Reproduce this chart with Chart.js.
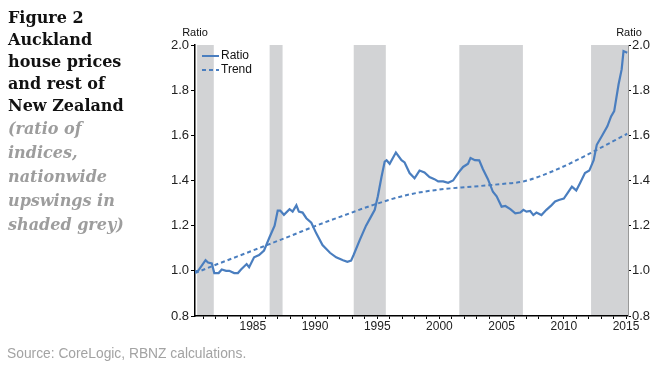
<!DOCTYPE html>
<html>
<head>
<meta charset="utf-8">
<script src="https://cdn.jsdelivr.net/npm/chart.js@4"></script>
<style>
    body { margin: 0; background: #fff; }
    #pagina { position: relative; width: 660px; height: 367px; overflow: hidden; }
    #grafico { position: absolute; left: 0; top: 0; }
    #titulo {
        position: absolute; left: 8px; top: 7px;
        font: bold 16px "DejaVu Serif"; line-height: 22px; color: #111;
    }
    #subtitulo {
        position: absolute; left: 8px; top: 117px;
        font: italic bold 16px "DejaVu Serif"; line-height: 24px; color: #9d9d9d;
    }
    #fonte {
        position: absolute; left: 7px; top: 346px;
        font: 13.8px "Liberation Sans"; color: #a3a3a3;
    }
</style>
</head>
<body>
<div id="pagina">
    <canvas id="grafico" width="660" height="367"></canvas>
    <div id="titulo">Figure 2<br>Auckland<br>house prices<br>and rest of<br>New Zealand</div>
    <div id="subtitulo">(ratio of<br>indices,<br>nationwide<br>upswings in<br>shaded grey)</div>
    <div id="fonte">Source: CoreLogic, RBNZ calculations.</div>
</div>
<script>
// dados (anos decimais)
const anosRazao = [1980.35, 1980.6, 1981.2, 1981.4, 1981.7, 1981.9, 1982.25, 1982.5, 1982.85, 1983.1,
    1983.5, 1983.8, 1984.05, 1984.5, 1984.7, 1985.1, 1985.5, 1985.9, 1986.35, 1986.75,
    1987.0, 1987.2, 1987.5, 1987.95, 1988.2, 1988.5, 1988.7, 1989.0, 1989.3, 1989.7,
    1990.1, 1990.6, 1991.2, 1991.7, 1992.25, 1992.6, 1992.9, 1993.1, 1993.6, 1994.1,
    1994.5, 1994.8, 1995.05, 1995.35, 1995.6, 1995.75, 1996.0, 1996.5, 1996.95, 1997.2,
    1997.6, 1998.0, 1998.4, 1998.8, 1999.2, 1999.6, 1999.9, 2000.3, 2000.7, 2001.1,
    2001.5, 2001.9, 2002.3, 2002.5, 2002.85, 2003.2, 2003.5, 2003.9, 2004.3, 2004.6,
    2005.0, 2005.3, 2005.7, 2006.1, 2006.5, 2006.75, 2007.0, 2007.3, 2007.55, 2007.8,
    2008.2, 2008.6, 2009.0, 2009.3, 2009.6, 2010.0, 2010.3, 2010.65, 2011.0, 2011.3,
    2011.7, 2012.05, 2012.4, 2012.65, 2013.05, 2013.5, 2013.8, 2014.05, 2014.4, 2014.65,
    2014.8, 2015.1];
const valoresRazao = [0.996, 1.0, 1.047, 1.037, 1.033, 0.99, 0.99, 1.006, 1.0, 1.0,
    0.99, 0.99, 1.006, 1.03, 1.016, 1.06, 1.07, 1.09, 1.15, 1.2,
    1.267, 1.267, 1.248, 1.273, 1.262, 1.29, 1.262, 1.258, 1.233, 1.213,
    1.166, 1.114, 1.08, 1.06, 1.047, 1.04, 1.045, 1.07, 1.137, 1.2,
    1.24, 1.27, 1.33, 1.418, 1.484, 1.49, 1.474, 1.524, 1.49, 1.48,
    1.433, 1.41, 1.444, 1.436, 1.415, 1.406, 1.396, 1.396, 1.39, 1.4,
    1.433, 1.46, 1.474, 1.5, 1.49, 1.489, 1.45, 1.406, 1.35, 1.33,
    1.284, 1.287, 1.273, 1.255, 1.258, 1.27, 1.262, 1.265, 1.247, 1.258,
    1.247, 1.27, 1.29, 1.307, 1.314, 1.32, 1.344, 1.373, 1.356, 1.388,
    1.433, 1.444, 1.49, 1.558, 1.596, 1.64, 1.684, 1.707, 1.825, 1.892,
    1.973, 1.966];

const anosTendencia = [1980.35, 1981.7, 1985, 1988, 1990, 1992.8, 1994.7, 1997.4, 2000, 2002.7,
    2004.9, 2006.75, 2009.4, 2012.1, 2015.1];
const valoresTendencia = [0.99, 1.02, 1.09, 1.154, 1.198, 1.255, 1.292, 1.336, 1.36, 1.373,
    1.384, 1.396, 1.448, 1.52, 1.607];

// periodos de alta (area cinza)
const inicioAlta = [1980.52, 1986.35, 1993.11, 2001.6, 2012.19];
const fimAlta = [1981.86, 1987.39, 1995.69, 2006.71, 2015.3];

const rotulosY = ['0.8', '1.0', '1.2', '1.4', '1.6', '1.8', '2.0'];

const azul = '#4a7ebf';

const faixasCinza = {
    id: 'faixasCinza',
    beforeDatasetsDraw(chart) {
        const ctx = chart.ctx;
        const area = chart.chartArea;
        const x = chart.scales.x;
        ctx.save();
        ctx.fillStyle = '#d2d3d5';
        for (let i = 0; i < inicioAlta.length; i++) {
            const x0 = Math.max(x.getPixelForValue(inicioAlta[i]), area.left + 1);
            const x1 = Math.min(x.getPixelForValue(fimAlta[i]), area.right);
            ctx.fillRect(x0, area.top, x1 - x0, area.bottom - area.top - 1);
        }
        ctx.restore();
    },
    afterDraw(chart) {
        const ctx = chart.ctx;
        const area = chart.chartArea;
        ctx.save();
        // "Ratio" acima dos eixos
        ctx.fillStyle = '#111';
        ctx.font = '11px "Liberation Sans"';
        ctx.textAlign = 'center';
        ctx.textBaseline = 'middle';
        ctx.fillText('Ratio', area.left, 33);
        ctx.fillText('Ratio', area.right + 1, 33);

        // legenda
        ctx.font = '12px "Liberation Sans"';
        ctx.textAlign = 'left';
        ctx.strokeStyle = azul;
        ctx.lineWidth = 2;
        ctx.beginPath();
        ctx.moveTo(area.left + 7, 56);
        ctx.lineTo(area.left + 24, 56);
        ctx.stroke();
        ctx.setLineDash([4, 3]);
        ctx.beginPath();
        ctx.moveTo(area.left + 7, 70);
        ctx.lineTo(area.left + 24, 70);
        ctx.stroke();
        ctx.fillText('Ratio', area.left + 26, 56);
        ctx.fillText('Trend', area.left + 26, 70);
        ctx.restore();
    }
};

new Chart(document.getElementById('grafico'), {
    type: 'line',
    data: {
        datasets: [{
            label: 'Ratio',
            data: anosRazao.map((a, i) => ({ x: a, y: valoresRazao[i] })),
            borderColor: azul,
            backgroundColor: azul,
            borderWidth: 2.2,
            pointRadius: 0,
            tension: 0
        }, {
            label: 'Trend',
            data: anosTendencia.map((a, i) => ({ x: a, y: valoresTendencia[i] })),
            borderColor: azul,
            backgroundColor: azul,
            borderWidth: 2,
            borderDash: [4, 3],
            pointRadius: 0,
            cubicInterpolationMode: 'monotone'
        }]
    },
    options: {
        responsive: false,
        animation: false,
        devicePixelRatio: 1,
        layout: { padding: { left: 150, right: 0, top: 45, bottom: 21 } },
        plugins: {
            legend: { display: false },
            tooltip: { enabled: false }
        },
        scales: {
            x: {
                type: 'linear',
                min: 1980.35,
                max: 2015.16,
                afterFit: (s) => { s.height = 30; },
                afterBuildTicks: (s) => {
                    const t = [];
                    for (let a = 1981; a <= 2015; a++) t.push({ value: a });
                    s.ticks = t;
                },
                ticks: {
                    autoSkip: false,
                    maxRotation: 0,
                    padding: 0,
                    color: '#222',
                    font: { family: 'Liberation Sans', size: 12 },
                    callback: (v) => (v % 5 === 0 ? String(v) : '')
                },
                grid: { drawOnChartArea: false, tickLength: 3, color: '#000' },
                border: { color: '#000', width: 1.5 }
            },
            y: {
                position: 'left',
                min: 0.8,
                max: 2.0,
                afterFit: (s) => { s.width = 45; },
                afterBuildTicks: (s) => { s.ticks = rotulosY.map((r) => ({ value: Number(r) })); },
                ticks: {
                    padding: 2,
                    color: '#222',
                    font: { family: 'Liberation Sans', size: 13 },
                    callback: (v) => v.toFixed(1)
                },
                grid: { drawOnChartArea: false, tickLength: 4, color: '#000' },
                border: { color: '#000', width: 1.5 }
            },
            y2: {
                position: 'right',
                min: 0.8,
                max: 2.0,
                afterFit: (s) => { s.width = 32; },
                afterBuildTicks: (s) => { s.ticks = rotulosY.map((r) => ({ value: Number(r) })); },
                ticks: {
                    padding: 1,
                    color: '#222',
                    font: { family: 'Liberation Sans', size: 13 },
                    callback: (v) => v.toFixed(1)
                },
                grid: { drawOnChartArea: false, tickLength: 3, color: '#000' },
                border: { color: '#999', width: 1 }
            }
        }
    },
    plugins: [faixasCinza]
});
</script>
</body>
</html>
